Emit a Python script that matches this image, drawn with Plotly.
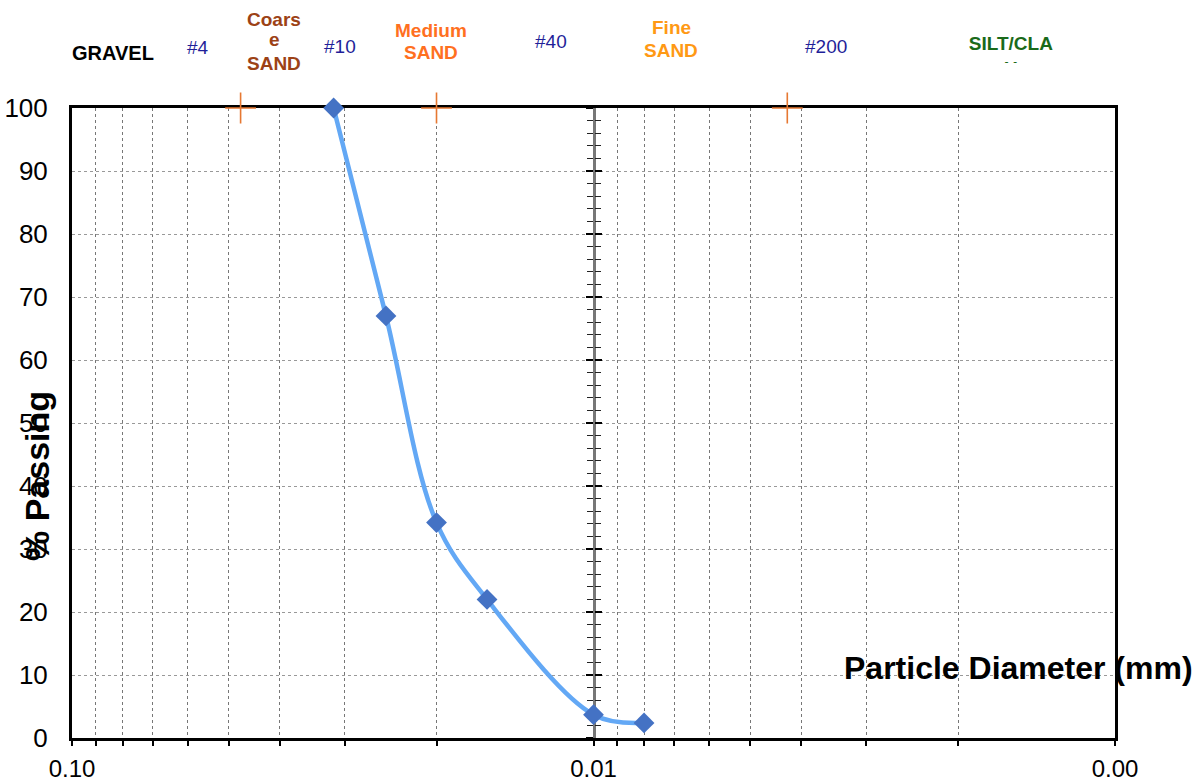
import plotly.graph_objects as go

# ---- data ----
diameter_mm = [0.0315, 0.025, 0.02, 0.016, 0.01, 0.008]
percent_passing = [100, 67, 34.2, 22, 3.7, 2.4]

boundary_mm = [0.0475, 0.02, 0.00425]
boundary_pct = [100, 100, 100]

x_major_vals = [0.1, 0.01, 0.001]
x_major_text = ["0.10", "0.01", "0.00"]
x_minor_vals = [0.09, 0.08, 0.07, 0.06, 0.05, 0.04, 0.03, 0.02,
                0.009, 0.008, 0.007, 0.006, 0.005, 0.004, 0.003, 0.002]

# top label lines: text, pixel x, pixel y, colour, bold, size
top_labels = [
    ("GRAVEL", 113, 53, "#000000", True, 20),
    ("#4", 198, 48, "#1F1F99", False, 19),
    ("Coars", 274, 19, "#9C4216", True, 19),
    ("e", 274, 40, "#9C4216", True, 19),
    ("SAND", 274, 63, "#9C4216", True, 19),
    ("#10", 340, 47, "#1F1F99", False, 19),
    ("Medium", 431, 30, "#FF701F", True, 19),
    ("SAND", 431, 52, "#FF701F", True, 19),
    ("#40", 551, 42, "#1F1F99", False, 19),
    ("Fine", 671, 27, "#FF9914", True, 19),
    ("SAND", 671, 50, "#FF9914", True, 19),
    ("#200", 826, 47, "#1F1F99", False, 19),
]

W, H = 1198, 782
L, R, T, B = 72, 1115, 108, 738
FONT = "Arial, Liberation Sans, sans-serif"


def px(xp):
    return (xp - L) / (R - L)


def py(yp):
    return (B - yp) / (B - T)


fig = go.Figure()

fig.add_trace(go.Scatter(
    x=diameter_mm, y=percent_passing, mode="lines+markers",
    line=dict(color="rgb(99,168,245)", width=4.5, shape="spline", smoothing=1),
    marker=dict(symbol="diamond", size=16, color="#4472C4"),
    cliponaxis=False, showlegend=False,
))

fig.add_trace(go.Scatter(
    x=boundary_mm, y=boundary_pct, mode="markers",
    marker=dict(symbol="cross-thin", size=22,
                line=dict(color="rgb(230,120,50)", width=1.6)),
    cliponaxis=False, showlegend=False,
))

annotations = []
for text, xp, yp, col, bold, size in top_labels:
    annotations.append(dict(
        text=f"<b>{text}</b>" if bold else text,
        x=px(xp), y=py(yp), xref="paper", yref="paper",
        showarrow=False, xanchor="center", yanchor="middle",
        font=dict(family=FONT, size=size, color=col),
    ))

# SILT/CLAY label, clipped like the original
annotations.append(dict(
    text="<b>SILT/CLA<br>Y</b>", x=px(1011), y=py(31), xref="paper", yref="paper",
    showarrow=False, xanchor="center", yanchor="top", valign="top",
    height=30, width=110,
    font=dict(family=FONT, size=19, color="#1A6A1A"),
))

annotations.append(dict(
    text="<b>% Passing</b>", x=px(37), y=py(476), xref="paper", yref="paper",
    showarrow=False, textangle=-90, xanchor="center", yanchor="middle",
    font=dict(family=FONT, size=34, color="black"),
))
annotations.append(dict(
    text="<b>Particle Diameter (mm)</b>", x=px(1018), y=py(668), xref="paper", yref="paper",
    showarrow=False, xanchor="center", yanchor="middle",
    font=dict(family=FONT, size=32, color="black"),
))

fig.update_layout(
    width=W, height=H,
    margin=dict(l=L, r=W - R, t=T, b=H - B, autoexpand=False),
    paper_bgcolor="white", plot_bgcolor="white",
    font=dict(family=FONT, color="black"),
    annotations=annotations,
    xaxis=dict(
        type="log", range=[-1, -3], automargin=False,
        tickmode="array", tickvals=x_major_vals, ticktext=x_major_text,
        tickfont=dict(size=24, color="black"),
        ticks="outside", ticklen=5, tickwidth=1.5, tickcolor="black",
        ticklabelstandoff=2,
        showline=True, linecolor="black", linewidth=3, mirror=True,
        showgrid=True, gridcolor="#777777", griddash="dot", gridwidth=1,
        minor=dict(tickmode="array", tickvals=x_minor_vals, ticks="outside",
                   ticklen=5, tickwidth=1.5, tickcolor="black",
                   showgrid=True, gridcolor="#777777", griddash="dot", gridwidth=1),
        zeroline=False, layer="below traces",
    ),
    yaxis=dict(
        range=[0, 100], dtick=10, tick0=0, automargin=False,
        tickfont=dict(size=26, color="black"),
        ticks="", ticklabelstandoff=16,
        showline=True, linecolor="black", linewidth=3, mirror=True,
        showgrid=True, gridcolor="#999999", griddash="dot", gridwidth=1,
        zeroline=False, layer="below traces",
    ),
    yaxis2=dict(
        range=[0, 100], overlaying="y", anchor="free", position=0.5, side="left",
        showticklabels=False, showgrid=False, zeroline=False, automargin=False,
        showline=True, linecolor="#777777", linewidth=2.5,
        dtick=10, tick0=0, ticks="outside", ticklen=7, tickwidth=2, tickcolor="black",
        minor=dict(dtick=2, ticks="outside", ticklen=6, tickwidth=1.2, tickcolor="#222222"),
        layer="below traces",
    ),
    yaxis3=dict(
        range=[0, 100], overlaying="y", anchor="free", position=0.5, side="left",
        showticklabels=False, showgrid=False, zeroline=False, automargin=False,
        showline=False,
        dtick=10, tick0=0, ticks="inside", ticklen=7, tickwidth=2, tickcolor="black",
        minor=dict(dtick=2, ticks="inside", ticklen=6, tickwidth=1.2, tickcolor="#222222"),
        layer="below traces",
    ),
)

# invisible traces to activate the overlay axes
fig.add_trace(go.Scatter(x=[None], y=[None], yaxis="y2", showlegend=False, hoverinfo="skip"))
fig.add_trace(go.Scatter(x=[None], y=[None], yaxis="y3", showlegend=False, hoverinfo="skip"))

fig.write_html("out.html", config={"displayModeBar": False},
               post_script="document.body.style.margin='0';")
